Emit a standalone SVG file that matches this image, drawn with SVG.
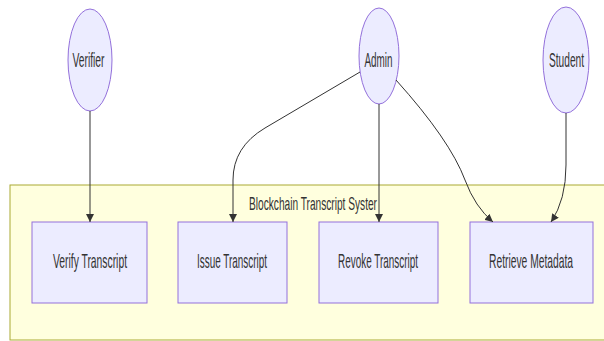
<svg xmlns="http://www.w3.org/2000/svg" width="604" height="341" viewBox="0 0 604 341">
  <style>
    .actor { fill: #ECECFF; stroke: #9370DB; stroke-width: 1; }
    .usecase { fill: #ECECFF; stroke: #9370DB; stroke-width: 1; }
    .cluster { fill: #FFFFDE; stroke: #AAAA33; stroke-width: 1; }
    .label { font-family: "Liberation Sans", Arial, sans-serif; font-size: 20px; fill: #333333; text-anchor: middle; }
    .title { font-size: 18px; }
    .edge { fill: none; stroke: #333333; stroke-width: 1; }
  </style>
  <defs>
    <marker id="arrow" viewBox="0 0 10 10" refX="10" refY="5" markerUnits="userSpaceOnUse" markerWidth="8" markerHeight="8" orient="auto">
      <path d="M0,0 L10,5 L0,10 z" fill="#333333"/>
    </marker>
  </defs>
  <rect width="604" height="341" fill="#FFFFFF"/>

  <!-- system boundary; labels use a narrow, horizontally squeezed face -->
  <g id="system">
    <rect class="cluster" x="10" y="185" width="600" height="155"/>
    <text class="label title" transform="translate(313,210) scale(0.5,1)" textLength="256" lengthAdjust="spacingAndGlyphs">Blockchain Transcript Syster</text>
  </g>

  <!-- actors -->
  <g id="verifier">
    <ellipse class="actor" cx="90" cy="60" rx="22" ry="51"/>
    <text class="label" transform="translate(88.5,66.5) scale(0.5,1)" textLength="64" lengthAdjust="spacingAndGlyphs">Verifier</text>
  </g>
  <g id="admin">
    <ellipse class="actor" cx="379" cy="56" rx="20" ry="48"/>
    <text class="label" transform="translate(378.5,66.5) scale(0.5,1)" textLength="56" lengthAdjust="spacingAndGlyphs">Admin</text>
  </g>
  <g id="student">
    <ellipse class="actor" cx="566" cy="60" rx="23" ry="53"/>
    <text class="label" transform="translate(566.5,66.5) scale(0.5,1)" textLength="70" lengthAdjust="spacingAndGlyphs">Student</text>
  </g>

  <!-- use cases -->
  <g id="verify-transcript">
    <rect class="usecase" x="32" y="222" width="115" height="81"/>
    <text class="label" transform="translate(90,267.5) scale(0.5,1)" textLength="148" lengthAdjust="spacingAndGlyphs">Verify Transcript</text>
  </g>
  <g id="issue-transcript">
    <rect class="usecase" x="178" y="222" width="109" height="81"/>
    <text class="label" transform="translate(232,267.5) scale(0.5,1)" textLength="140" lengthAdjust="spacingAndGlyphs">Issue Transcript</text>
  </g>
  <g id="revoke-transcript">
    <rect class="usecase" x="319" y="222" width="119" height="81"/>
    <text class="label" transform="translate(378,267.5) scale(0.5,1)" textLength="160" lengthAdjust="spacingAndGlyphs">Revoke Transcript</text>
  </g>
  <g id="retrieve-metadata">
    <rect class="usecase" x="470" y="222" width="123" height="81"/>
    <text class="label" transform="translate(531,267.5) scale(0.5,1)" textLength="168" lengthAdjust="spacingAndGlyphs">Retrieve Metadata</text>
  </g>

  <!-- connectors -->
  <g id="edges">
    <path class="edge" d="M90,111 L90,222" marker-end="url(#arrow)"/>
    <path class="edge" d="M360,72 L265,128 Q233,147 233,180 L233,222" marker-end="url(#arrow)"/>
    <path class="edge" d="M379,104 L379,222" marker-end="url(#arrow)"/>
    <path class="edge" d="M396,80 Q450,140 465,180 Q475,207 493,222" marker-end="url(#arrow)"/>
    <path class="edge" d="M566,113 L566,165 Q566,200 551,222" marker-end="url(#arrow)"/>
  </g>
</svg>
